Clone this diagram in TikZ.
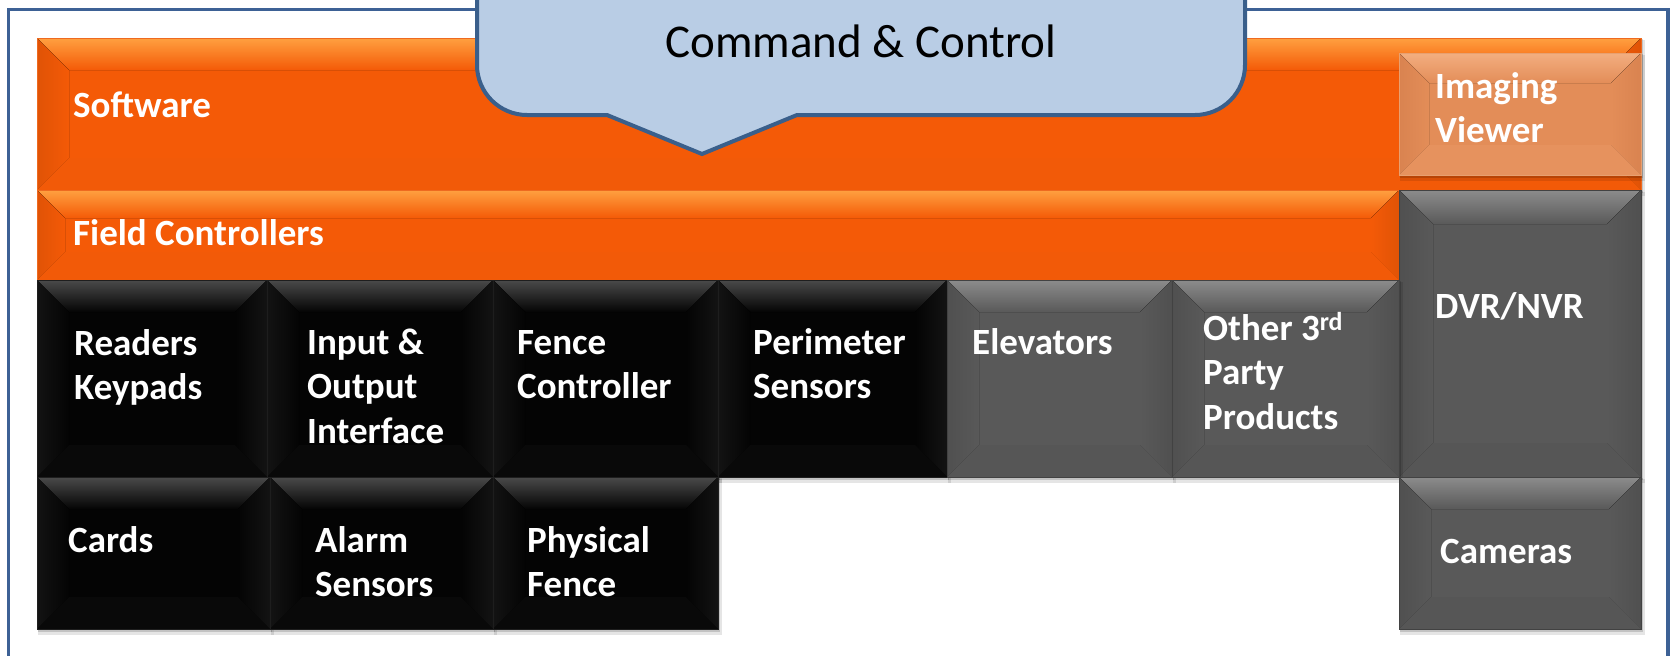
\documentclass[tikz,border=0pt]{standalone}
\usepackage{fontspec}
\setmainfont{Carlito}
\usetikzlibrary{fit}
\definecolor{frameblue}{HTML}{3D6195}
\definecolor{calloutfill}{HTML}{B9CDE5}
\definecolor{calloutline}{HTML}{3A5F8B}
\definecolor{orbase}{HTML}{F45A07}
\definecolor{ortop}{HTML}{FFA040}
\definecolor{orside}{HTML}{E05306}
\definecolor{orbot}{HTML}{F25A08}
\definecolor{oredge}{HTML}{EE6A20}
\definecolor{ivbase}{HTML}{E38D58}
\definecolor{ivtop}{HTML}{F3AE80}
\definecolor{ivside}{HTML}{D98350}
\definecolor{ivbot}{HTML}{E6925E}
\definecolor{ivedge}{HTML}{E8A070}
\definecolor{bkbase}{HTML}{040404}
\definecolor{bktop}{HTML}{4A4A4A}
\definecolor{bkside}{HTML}{131313}
\definecolor{bkbot}{HTML}{090909}
\definecolor{bkedge}{HTML}{1E1E1E}
\definecolor{gybase}{HTML}{595959}
\definecolor{gytop}{HTML}{8C8C8C}
\definecolor{gyside}{HTML}{505050}
\definecolor{gybot}{HTML}{565656}
\definecolor{gyedge}{HTML}{424242}
% #1 name, #2 x1, #3 y1, #4 x2, #5 y2, #6 palette, #7 bevel size
\newcommand\bevelbox[7]{%
  \fill[black, opacity=.10] (#2+1,#3+2) rectangle (#4+4,#5+6);
  \fill[black, opacity=.15] (#2+1,#3+1) rectangle (#4+2,#5+3);
  \coordinate (#1-nw) at (#2,#3);
  \coordinate (#1-se) at (#4,#5);
  \node[box, fill=#6base, fit=(#1-nw)(#1-se)] (#1) {};
  \fill[top color=#6top, bottom color=#6base] (#2,#3) -- (#4,#3) -- (#4-#7,#3+#7) -- (#2+#7,#3+#7) -- cycle;
  \fill[left color=#6side, right color=#6base] (#2,#3) -- (#2+#7,#3+#7) -- (#2+#7,#5-#7) -- (#2,#5) -- cycle;
  \fill[left color=#6base, right color=#6side] (#4,#3) -- (#4-#7,#3+#7) -- (#4-#7,#5-#7) -- (#4,#5) -- cycle;
  \fill[#6bot] (#2,#5) -- (#2+#7,#5-#7) -- (#4-#7,#5-#7) -- (#4,#5) -- cycle;
  \draw[#6edge, line width=0.8] (#2,#3) rectangle (#4,#5);
}
\begin{document}
\begin{tikzpicture}[x=1pt, y=-1pt,
  box/.style={inner sep=0pt, outer sep=0pt, draw=none},
  lbl/.style={text=white, font=\bfseries\fontsize{37}{44.5}\selectfont,
    text width=300pt, align=left, inner sep=0pt, anchor=base west,
    execute at begin node={\spaceskip=0pt\xspaceskip=0pt\relax}},
  ccl/.style={text=black, font=\fontsize{47}{56}\selectfont, inner sep=0pt, anchor=base}]
\useasboundingbox (0,0) rectangle (1671,656);
\clip (0,0) rectangle (1671,656);
\fill[white] (0,0) rectangle (1671,656);
% outer frame
\draw[frameblue, line width=3.5] (8.5,9.5) rectangle (1668,720);
% bars and boxes
\bevelbox{sw}{37}{38}{1641}{190}{or}{32}
\bevelbox{iv}{1399}{53}{1641}{175}{iv}{30}
\bevelbox{fc}{37}{190}{1399}{280}{or}{28}
\bevelbox{dvr}{1399}{190}{1641}{477}{gy}{34}
\bevelbox{rk}{37}{280}{267}{477}{bk}{32}
\bevelbox{io}{267}{280}{493}{477}{bk}{32}
\bevelbox{fn}{493}{280}{718}{477}{bk}{32}
\bevelbox{ps}{718}{280}{947}{477}{bk}{32}
\bevelbox{el}{947}{280}{1172}{477}{gy}{32}
\bevelbox{ot}{1172}{280}{1399}{477}{gy}{32}
\bevelbox{cd}{37}{477}{270}{629}{bk}{32}
\bevelbox{al}{270}{477}{493}{629}{bk}{32}
\bevelbox{pf}{493}{477}{718}{629}{bk}{32}
\bevelbox{cam}{1399}{477}{1641}{629}{gy}{32}
% callout
\draw[calloutline, fill=calloutfill, line width=4, line join=miter]
  (477,-10) -- (477,65) .. controls (477,92.6) and (499.4,115) .. (527,115)
  -- (607,115) -- (702,154) -- (797,115) -- (1195,115)
  .. controls (1222.6,115) and (1245,92.6) .. (1245,65) -- (1245,-10);
\node[ccl] (cc) at (861,57) {Command \& Control};
% labels
\node[lbl] (tsw) at (73,117) {Software};
\node[lbl] (tiv) at (1435,98) {Imaging\\Viewer};
\node[lbl] (tfc) at (73,245) {Field Controllers};
\node[lbl] (tdvr) at (1435,318) {DVR/NVR};
\node[lbl] (trk) at (74,355) {Readers\\Keypads};
\node[lbl] (tio) at (307,354) {Input \&\\Output\\Interface};
\node[lbl] (tfn) at (517,354) {Fence\\Controller};
\node[lbl] (tps) at (753,354) {Perimeter\\Sensors};
\node[lbl] (tel) at (972,354) {Elevators};
\node[lbl] (tot) at (1203,340) {Other 3\textsuperscript{rd}\\Party\\Products};
\node[lbl] (tcd) at (68,552) {Cards};
\node[lbl] (tal) at (315,552) {Alarm\\Sensors};
\node[lbl] (tpf) at (527,552) {Physical\\Fence};
\node[lbl] (tcam) at (1440,563) {Cameras};
\end{tikzpicture}
\end{document}
